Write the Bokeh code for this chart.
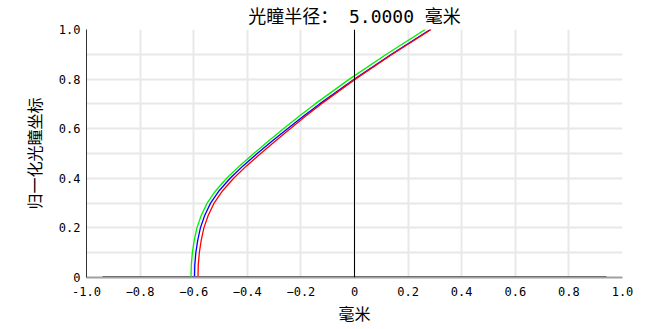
from bokeh.plotting import figure
from bokeh.models import FixedTicker, Span
from bokeh.embed import file_html
from bokeh.resources import INLINE

# normalized pupil coordinate
pupil = [0.0, 0.05, 0.1, 0.15, 0.2, 0.25, 0.3, 0.35, 0.4, 0.45, 0.5, 0.55, 0.6, 0.65, 0.7, 0.8, 0.9, 1.0]
# longitudinal aberration (mm) per wavelength
green_mm = [-0.610, -0.609, -0.605, -0.598, -0.588, -0.572, -0.550, -0.518, -0.477, -0.429,
            -0.376, -0.321, -0.265, -0.207, -0.147, -0.019, 0.119, 0.264]
blue_mm = [-0.597, -0.596, -0.592, -0.585, -0.575, -0.559, -0.537, -0.505, -0.464, -0.416,
           -0.363, -0.307, -0.250, -0.191, -0.130, 0.000, 0.138, 0.283]
red_mm = [-0.584, -0.583, -0.579, -0.572, -0.562, -0.546, -0.524, -0.492, -0.451, -0.403,
          -0.350, -0.295, -0.240, -0.183, -0.124, 0.003, 0.141, 0.286]

baseline_x = [-0.94, 0.94]
baseline_y = [0.0, 0.0]

x_ticks = [-1.0, -0.8, -0.6, -0.4, -0.2, 0.0, 0.2, 0.4, 0.6, 0.8, 1.0]
y_ticks = [0.0, 0.2, 0.4, 0.6, 0.8, 1.0]
y_grid = [0.0, 0.1, 0.2, 0.3, 0.4, 0.5, 0.6, 0.7, 0.8, 0.9, 1.0]

title_text = "光瞳半径： 5.0000 毫米"
x_label = "毫米"
y_label = "归一化光瞳坐标"

mono = "'DejaVu Sans Mono', 'Noto Sans CJK SC'"
cjk = "Noto Sans CJK SC"

p = figure(width=649, height=329, x_range=(-1, 1), y_range=(0, 1),
           output_backend="svg", toolbar_location=None,
           title=title_text)
p.min_border_left = 86
p.min_border_right = 27
p.min_border_top = 27
p.min_border_bottom = 52
p.outline_line_color = None
p.background_fill_color = "white"
p.border_fill_color = "white"

p.title.align = "center"
p.title.text_font = mono
p.title.text_font_size = "18px"
p.title.text_font_style = "normal"
p.title.text_color = "black"
p.title.standoff = 6

p.xaxis.ticker = FixedTicker(ticks=x_ticks)
p.yaxis.ticker = FixedTicker(ticks=y_ticks)
p.xaxis.major_label_overrides = {0: "0", -1: "-1.0", 1: "1.0"}
p.yaxis.major_label_overrides = {0: "0", 1: "1.0"}
p.xgrid.ticker = FixedTicker(ticks=x_ticks)
p.ygrid.ticker = FixedTicker(ticks=y_grid)
for g in (p.xgrid, p.ygrid):
    g.grid_line_color = "#e8e8e8"
    g.grid_line_width = 2

for ax in (p.xaxis, p.yaxis):
    ax.major_tick_in = 0
    ax.major_tick_out = 0
    ax.minor_tick_in = 0
    ax.minor_tick_out = 0
    ax.major_label_text_font = "DejaVu Sans Mono"
    ax.major_label_text_font_size = "12px"
    ax.major_label_text_color = "black"
    ax.axis_label_text_font = cjk
    ax.axis_label_text_font_size = "16px"
    ax.axis_label_text_font_style = "normal"
    ax.axis_label_text_color = "black"

p.xaxis.axis_label = x_label
p.yaxis.axis_label = y_label
p.xaxis.axis_line_color = "#a0a0a0"
p.xaxis.axis_line_width = 2
p.yaxis.axis_line_color = "#333333"
p.yaxis.axis_line_width = 1
p.xaxis.major_label_standoff = 9
p.yaxis.major_label_standoff = 6
p.xaxis.axis_label_standoff = 2
p.yaxis.axis_label_standoff = 10

p.add_layout(Span(location=0, dimension="height", line_color="black", line_width=1))
p.line(baseline_x, baseline_y, line_color="black", line_width=2.5)

p.line(green_mm, pupil, line_color="#00ee00", line_width=1.3)
p.line(blue_mm, pupil, line_color="#0000ff", line_width=1.3)
p.line(red_mm, pupil, line_color="#ff0000", line_width=1.3)

open("out.html", "w").write(file_html(p, INLINE))
